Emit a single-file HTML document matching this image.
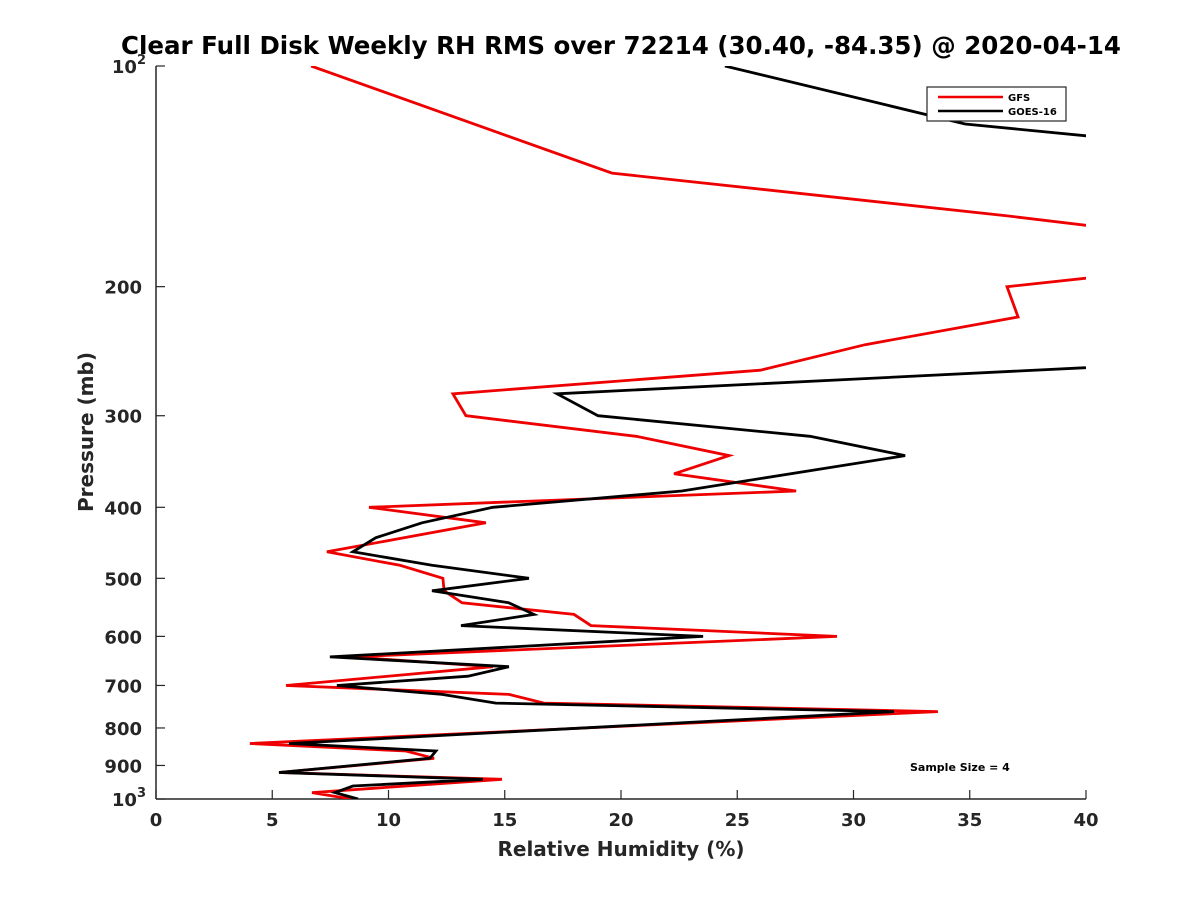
<!DOCTYPE html>
<html><head><meta charset="utf-8"><style>
html,body{margin:0;padding:0;background:#fff;}
svg{display:block;font-family:"DejaVu Sans","Liberation Sans",sans-serif;}
</style></head><body>
<svg id="chart" width="1200" height="900" viewBox="0 0 1200 900">
<defs><clipPath id="plotclip"><rect x="156" y="66" width="930" height="733"/></clipPath></defs>
<text x="621" y="54" text-anchor="middle" font-size="24.5" font-weight="bold" fill="#000">Clear Full Disk Weekly RH RMS over 72214 (30.40, -84.35) @ 2020-04-14</text>
<g id="axes"></g>
<g id="series" clip-path="url(#plotclip)"></g>
<text x="621" y="856" text-anchor="middle" font-size="20" font-weight="bold" fill="#262626">Relative Humidity (%)</text>
<text transform="translate(93,432) rotate(-90)" text-anchor="middle" font-size="20" font-weight="bold" fill="#262626">Pressure (mb)</text>
<g>
<rect x="927" y="87" width="139" height="34" fill="#fff" stroke="#262626" stroke-width="1.2"/>
<line x1="938" y1="97" x2="1003" y2="97" stroke="#e00" stroke-width="2.5"/>
<text x="1008" y="101" font-size="10" font-weight="bold" fill="#000">GFS</text>
<line x1="938" y1="111" x2="1003" y2="111" stroke="#000" stroke-width="2.5"/>
<text x="1008" y="115" font-size="10" font-weight="bold" fill="#000">GOES-16</text>
</g>
<text x="910" y="771" font-size="11" font-weight="bold" fill="#000">Sample Size = 4</text>
</svg>
<script>
const gfsPressure = [100,140,160,180,200,220,240,260,280,300,320,340,360,380,400,420,460,480,500,520,540,560,580,600,640,660,700,720,740,760,840,860,880,920,940,980,1000];
const gfsValues   = [6.67,19.61,36.52,50,36.6,37.08,30.5,26.0,12.77,13.33,20.65,24.65,22.28,27.53,9.16,14.19,7.35,10.49,12.34,12.39,13.16,17.98,18.71,29.29,8.34,14.49,5.59,15.18,16.69,33.63,4.04,10.75,11.96,5.29,14.88,6.71,8.4];
const goesPressure = [100,120,130,240,280,300,320,340,380,400,420,440,460,480,500,520,540,560,580,600,640,660,680,700,720,740,760,840,860,880,920,940,960,980,1000];
const goesValues   = [24.47,34.8,46,60,17.25,19.01,28.13,32.22,22.62,14.49,11.44,9.46,8.47,11.87,16.04,11.87,15.18,16.26,13.12,23.53,7.48,15.18,13.42,7.78,12.30,14.62,31.74,5.72,12.04,11.78,5.29,14.06,8.47,7.70,8.69];
const xTicks = [0,5,10,15,20,25,30,35,40];
const yTicks = [100,200,300,400,500,600,700,800,900,1000];

const X0=156,X1=1086,Y0=66,Y1=799,XMIN=0,XMAX=40;
const xs=v=>X0+(v-XMIN)/(XMAX-XMIN)*(X1-X0);
const ys=p=>Y0+(Math.log10(p)-2)/1*(Y1-Y0);
const NS="http://www.w3.org/2000/svg";
const axes=document.getElementById('axes');
const series=document.getElementById('series');
function mk(tag,attrs,parent){const e=document.createElementNS(NS,tag);for(const k in attrs)e.setAttribute(k,attrs[k]);parent.appendChild(e);return e;}

let l=mk('line',{x1:X0,y1:Y0,x2:X0,y2:Y1,stroke:'#262626','stroke-width':1.5},axes);


l=mk('line',{x1:X0,y1:Y1,x2:X1,y2:Y1,stroke:'#262626','stroke-width':1.5},axes);



xTicks.forEach(v=>{
  const x=xs(v);
  const t=mk('line',{x1:x,y1:Y1,x2:x,y2:Y1-9,stroke:'#262626','stroke-width':1.2},axes);
  
  
  const tx=mk('text',{x:x,y:Y1+27,'text-anchor':'middle','font-size':18,'font-weight':'bold',fill:'#262626'},axes);
  tx.textContent=String(v);
  
  
});
yTicks.forEach(p=>{
  const y=ys(p);
  const t=mk('line',{x1:X0,y1:y,x2:X0+9,y2:y,stroke:'#262626','stroke-width':1.2},axes);
  
  
  const tx=mk('text',{x:X0-14,y:y+7,'text-anchor':'end','font-size':18,'font-weight':'bold',fill:'#262626'},axes);
  if(p===100||p===1000){
    tx.textContent='10';
    const s=mk('tspan',{dy:-9,'font-size':13},tx);
    s.textContent=p===100?'2':'3';
    tx.setAttribute('x',X0-10);
  } else tx.textContent=String(p);
  
  
});

function drawLine(vals,pres,color,name){
  const pts=vals.map((v,i)=>xs(v).toFixed(1)+','+ys(pres[i]).toFixed(1)).join(' ');
  const pl=mk('polyline',{points:pts,fill:'none',stroke:color,'stroke-width':2.8,'stroke-linejoin':'miter'},series);
  
  
}
drawLine(gfsValues,gfsPressure,'#e00','gfs-line');
drawLine(goesValues,goesPressure,'#000','goes-16-line');
</script>
</body></html>
